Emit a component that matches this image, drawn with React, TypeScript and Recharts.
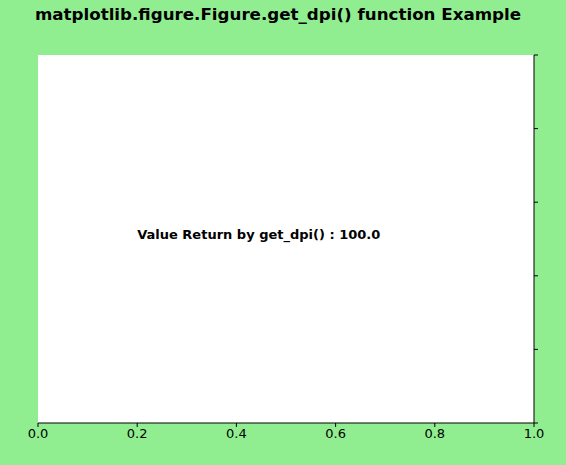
import React from "react";
import { ScatterChart, Scatter, XAxis, YAxis, ReferenceDot, Label } from "recharts";

const xTicks = [0, 0.2, 0.4, 0.6, 0.8, 1.0];
const yTicks = [0, 0.2, 0.4, 0.6, 0.8, 1.0];
const annotation = { x: 0.2, y: 0.5, text: "Value Return by get_dpi() : 100.0" };
const points = [{ x: 0.2, y: 0.5 }];

const font = "DejaVu Sans";

export default function App() {
  return (
    <div style={{ position: "absolute", left: 0, top: 0, width: 566, height: 465, background: "#90EE90" }}>
      <div style={{ position: "absolute", top: 4, width: 556, textAlign: "center", fontFamily: font, fontWeight: "bold", fontSize: 16.7 }}>
        matplotlib.figure.Figure.get_dpi() function Example
      </div>
      <ScatterChart width={566} height={465} margin={{ top: 55, left: 38, right: 0, bottom: 0 }}>
        <rect x={38} y={55} width={496} height={368} fill="#fff" />
        <XAxis type="number" dataKey="x" domain={[0, 1]} ticks={xTicks} height={42} allowDataOverflow
          tickFormatter={(v: number) => v.toFixed(1)} stroke="#000" tickSize={4} interval={0}
          tick={{ fill: "#000", fontFamily: font, fontSize: 13 }} />
        <YAxis type="number" dataKey="y" domain={[0, 1]} ticks={yTicks} orientation="right" width={32} allowDataOverflow
          stroke="#000" tickSize={4} interval={0} tickFormatter={() => ""} tick={{ fill: "#000" }} />
        <Scatter data={points} fill="none" shape={() => <g />} isAnimationActive={false} />
        <ReferenceDot x={annotation.x} y={annotation.y} r={0} fill="none" stroke="none">
          <Label content={(p: any) => (
            <text x={p.viewBox.x} y={p.viewBox.y} fill="#000" fontFamily={font} fontWeight="bold" fontSize={13}>
              {annotation.text}
            </text>
          )} />
        </ReferenceDot>
      </ScatterChart>
    </div>
  );
}
